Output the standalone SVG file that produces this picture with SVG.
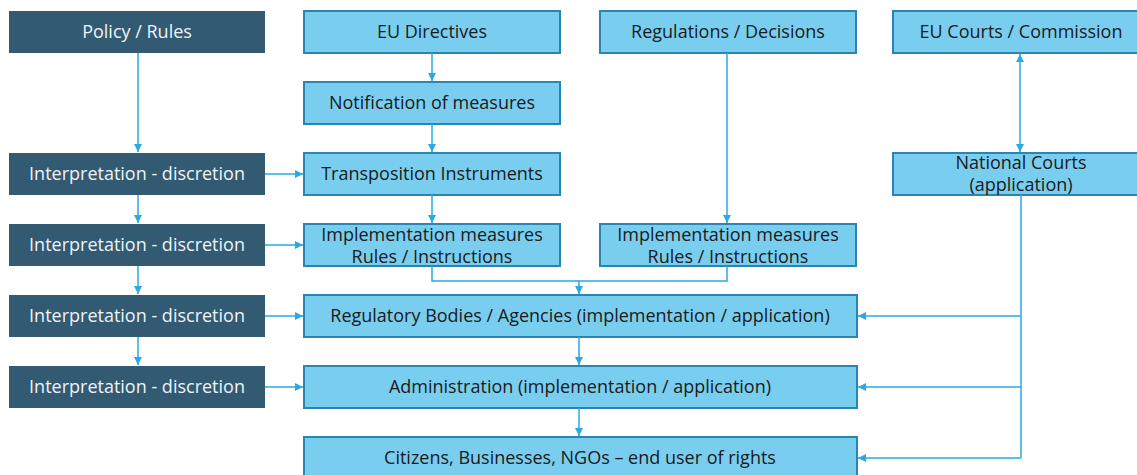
<svg xmlns="http://www.w3.org/2000/svg" width="1137" height="475" viewBox="0 0 1137 475">
<style>
.dk{fill:#335a73}
.lt{fill:#79cef0;stroke:#2a86b0;stroke-width:2}
.dt{fill:#eef3f6;font-family:"Open Sans","Liberation Sans",Arial,sans-serif;font-size:18px;text-anchor:middle}
.lx{fill:#1a1a1a;font-family:"Open Sans","Liberation Sans",Arial,sans-serif;font-size:18px;text-anchor:middle}
.c{fill:none;stroke:#29aae2;stroke-width:1.5}
</style>
<defs>
<marker id="a" viewBox="0 0 10 10" refX="10" refY="5" markerWidth="8" markerHeight="8" markerUnits="userSpaceOnUse" orient="auto-start-reverse">
<path d="M0,0 L10,5 L0,10 z" fill="#29aae2"/>
</marker>
</defs>
<g id="policy"><rect class="dk" x="9" y="11" width="256" height="42"/><text class="dt" x="137" y="38">Policy / Rules</text></g>
<g id="interp1"><rect class="dk" x="9" y="153" width="256" height="42"/><text class="dt" x="137" y="180">Interpretation - discretion</text></g>
<g id="interp2"><rect class="dk" x="9" y="224" width="256" height="42"/><text class="dt" x="137" y="251">Interpretation - discretion</text></g>
<g id="interp3"><rect class="dk" x="9" y="295" width="256" height="42"/><text class="dt" x="137" y="322">Interpretation - discretion</text></g>
<g id="interp4"><rect class="dk" x="9" y="366" width="256" height="42"/><text class="dt" x="137" y="393">Interpretation - discretion</text></g>
<g id="directives"><rect class="lt" x="304" y="11" width="256" height="42"/><text class="lx" x="432" y="38">EU Directives</text></g>
<g id="notification"><rect class="lt" x="304" y="82" width="256" height="42"/><text class="lx" x="432" y="109">Notification of measures</text></g>
<g id="transposition"><rect class="lt" x="304" y="153" width="256" height="42"/><text class="lx" x="432" y="180">Transposition Instruments</text></g>
<g id="impl1"><rect class="lt" x="304" y="224" width="256" height="42"/><text class="lx" x="432" y="241">Implementation measures</text><text class="lx" x="432" y="263">Rules / Instructions</text></g>
<g id="regulations"><rect class="lt" x="600" y="11" width="256" height="42"/><text class="lx" x="728" y="38">Regulations / Decisions</text></g>
<g id="impl2"><rect class="lt" x="600" y="224" width="256" height="42"/><text class="lx" x="728" y="241">Implementation measures</text><text class="lx" x="728" y="263">Rules / Instructions</text></g>
<g id="eucourts"><rect class="lt" x="893" y="11" width="256" height="42"/><text class="lx" x="1021" y="38">EU Courts / Commission</text></g>
<g id="natcourts"><rect class="lt" x="893" y="153" width="256" height="42"/><text class="lx" x="1021" y="169">National Courts</text><text class="lx" x="1021" y="191">(application)</text></g>
<g id="regbodies"><rect class="lt" x="304" y="295" width="553" height="42"/><text class="lx" x="580" y="322">Regulatory Bodies / Agencies (implementation / application)</text></g>
<g id="admin"><rect class="lt" x="304" y="366" width="553" height="42"/><text class="lx" x="580" y="393">Administration (implementation / application)</text></g>
<g id="citizens"><rect class="lt" x="304" y="437" width="553" height="50"/><text class="lx" x="580" y="464">Citizens, Businesses, NGOs – end user of rights</text></g>
<g id="connectors">
<path class="c" d="M138,53 V152" marker-end="url(#a)"/>
<path class="c" d="M138,195 V223" marker-end="url(#a)"/>
<path class="c" d="M138,266 V294" marker-end="url(#a)"/>
<path class="c" d="M138,337 V365" marker-end="url(#a)"/>
<path class="c" d="M265,174 H303" marker-end="url(#a)"/>
<path class="c" d="M265,245 H303" marker-end="url(#a)"/>
<path class="c" d="M265,316 H303" marker-end="url(#a)"/>
<path class="c" d="M265,387 H303" marker-end="url(#a)"/>
<path class="c" d="M432,53 V81" marker-end="url(#a)"/>
<path class="c" d="M432,124 V152" marker-end="url(#a)"/>
<path class="c" d="M432,195 V223" marker-end="url(#a)"/>
<path class="c" d="M727,53 V223" marker-end="url(#a)"/>
<path class="c" d="M432,266 V281 H727 V266"/>
<path class="c" d="M579,281 V294" marker-end="url(#a)"/>
<path class="c" d="M579,337 V365" marker-end="url(#a)"/>
<path class="c" d="M579,408 V436" marker-end="url(#a)"/>
<path class="c" d="M1020,54 V152" marker-start="url(#a)" marker-end="url(#a)"/>
<path class="c" d="M1021,195 V458"/>
<path class="c" d="M1021,316 H858" marker-end="url(#a)"/>
<path class="c" d="M1021,387 H858" marker-end="url(#a)"/>
<path class="c" d="M1021,458 H858" marker-end="url(#a)"/>
</g>
</svg>
